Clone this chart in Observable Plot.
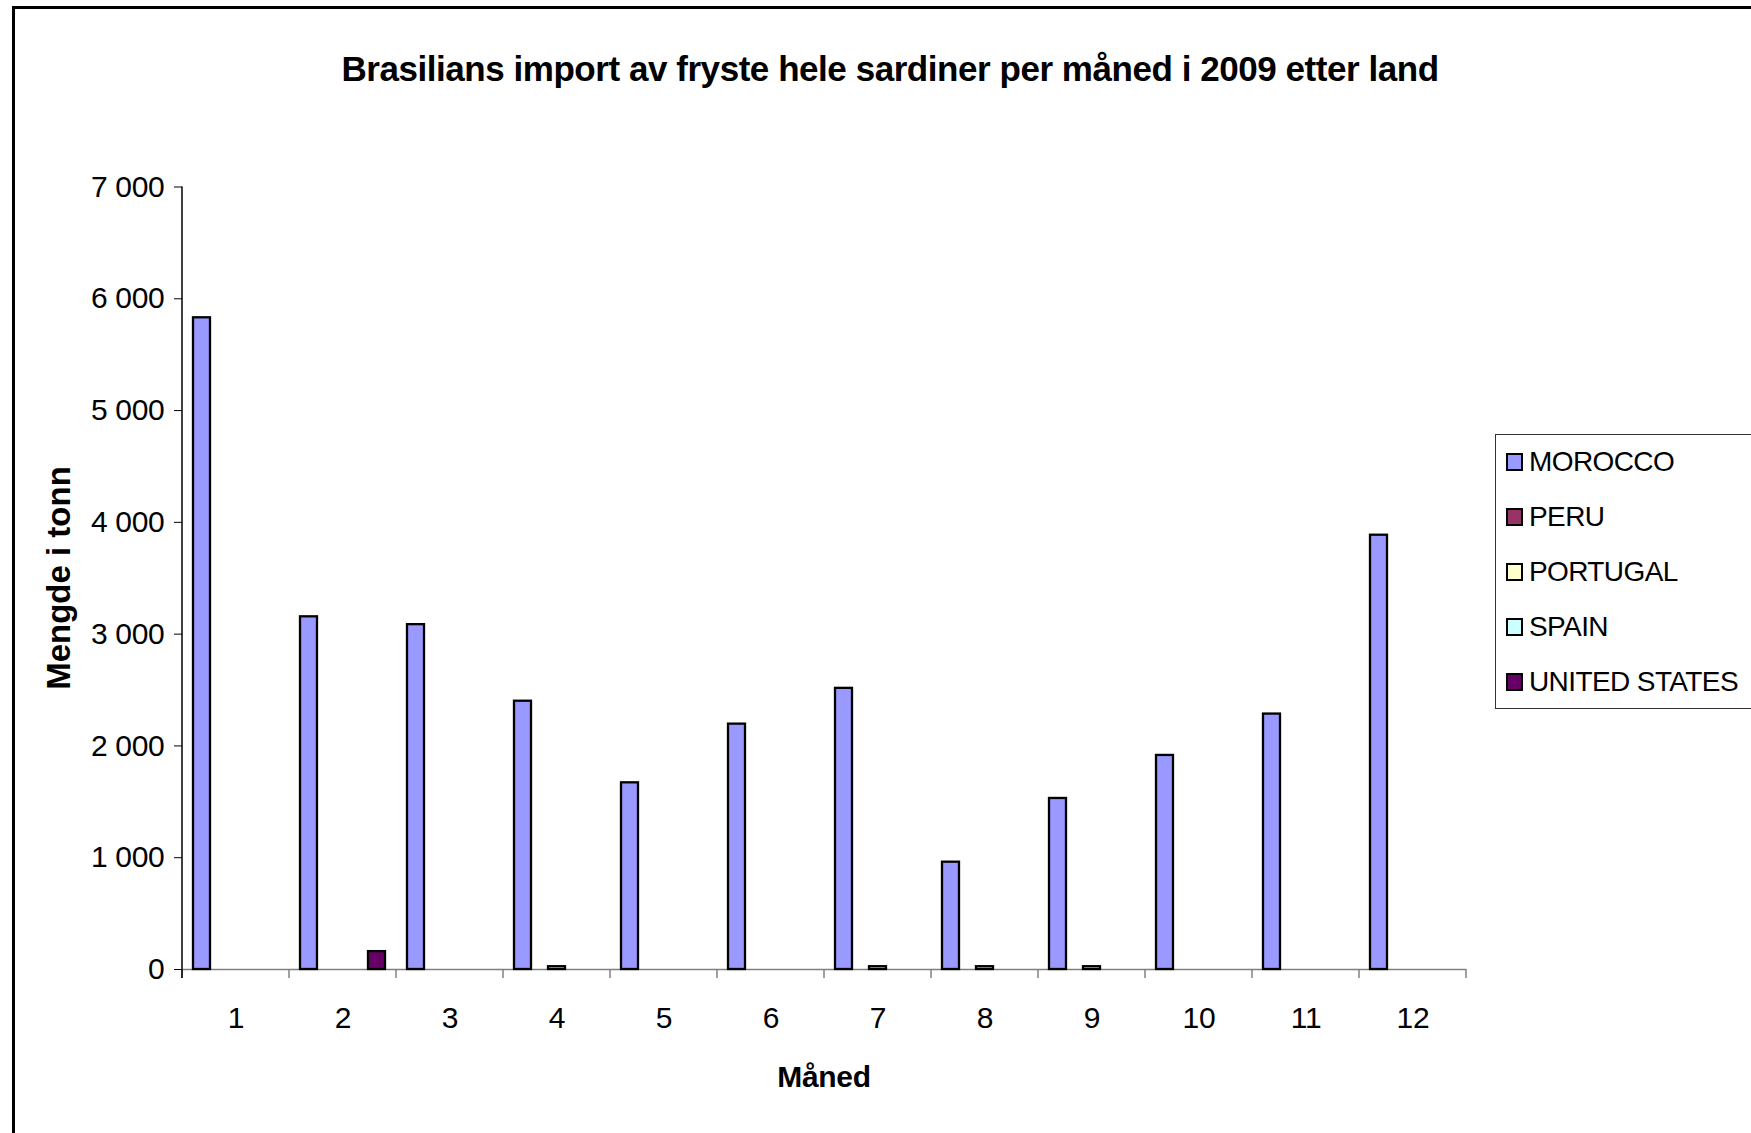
<!DOCTYPE html>
<html>
<head>
<meta charset="utf-8">
<script src="https://cdn.jsdelivr.net/npm/d3@7"></script>
<script src="https://cdn.jsdelivr.net/npm/@observablehq/plot@0.6"></script>
<style>
  html, body { margin: 0; padding: 0; background: #fff; }
  #wrap { position: relative; width: 1751px; height: 1133px; overflow: hidden; background: #fff;
          font-family: "Liberation Sans", Arial, sans-serif; color: #000; }
  #border { position: absolute; left: 12px; top: 6px; width: 1800px; height: 1200px; border: 3px solid #000; box-sizing: border-box; }
  #chart { position: absolute; left: 0; top: 0; }
  .title { position: absolute; left: 890px; top: 51px; transform: translateX(-50%); white-space: nowrap;
           font-size: 35px; line-height: 35px; font-weight: bold; letter-spacing: -0.45px; }
  .xtitle { position: absolute; left: 824px; top: 1077px; transform: translate(-50%, -50%); white-space: nowrap;
            font-size: 30px; font-weight: bold; letter-spacing: -0.3px; }
  .ytitle { position: absolute; left: 59px; top: 578px; transform: translate(-50%, -50%) rotate(-90deg); white-space: nowrap;
            font-size: 33px; font-weight: bold; letter-spacing: 0px; }
  #legend { position: absolute; left: 1495px; top: 434px; width: 300px; height: 275px; border: 1.5px solid #333; box-sizing: border-box; background: #fff; }
  .item { position: absolute; left: 10px; height: 30px; display: flex; align-items: center; white-space: nowrap;
          font-size: 28px; letter-spacing: -0.6px; }
  .sw { width: 13px; height: 14px; border: 2px solid #000; margin-right: 6px; flex: none; }
</style>
</head>
<body>
<div id="wrap">
  <div id="border"></div>
  <div id="chart"></div>
  <div class="title">Brasilians import av fryste hele sardiner per måned i 2009 etter land</div>
  <div class="xtitle">Måned</div>
  <div class="ytitle">Mengde i tonn</div>
  <div id="legend"></div>
</div>
<script>
// ---- data ----
const months = [1, 2, 3, 4, 5, 6, 7, 8, 9, 10, 11, 12];
const countries = ["MOROCCO", "PERU", "PORTUGAL", "SPAIN", "UNITED STATES"];
const colors = ["#9999FF", "#993366", "#FFFFCC", "#CCFFFF", "#660066"];
const morocco      = [5830, 3155, 3085, 2400, 1670, 2195, 2515, 960, 1530, 1915, 2285, 3885];
const peru         = [0, 0, 0, 0, 0, 0, 0, 0, 0, 0, 0, 0];
const portugal     = [0, 0, 0, 25, 0, 0, 25, 25, 25, 0, 0, 0];
const spain        = [0, 0, 0, 0, 0, 0, 0, 0, 0, 0, 0, 0];
const unitedStates = [0, 160, 0, 0, 0, 0, 0, 0, 0, 0, 0, 0];
const yTicks = [0, 1000, 2000, 3000, 4000, 5000, 6000, 7000];

const series = [morocco, peru, portugal, spain, unitedStates];
const data = countries.flatMap((c, i) => months.map((m, j) => ({month: m, country: c, value: series[i][j]})));

const locale = d3.formatLocale({decimal: ",", thousands: "\u00a0", grouping: [3], currency: ["", ""]});
const fmt = locale.format(",d");

const chart = Plot.plot({
  width: 1751,
  height: 1133,
  marginLeft: 179,
  marginRight: 282,
  marginTop: 186.5,
  marginBottom: 164,
  style: {fontFamily: "'Liberation Sans', Arial, sans-serif", fontSize: "30px", color: "#000", background: "transparent", letterSpacing: "-0.3px", overflow: "visible"},
  fx: {domain: months, padding: 0},
  x: {domain: countries, paddingInner: 0, paddingOuter: 0.58, axis: null},
  y: {domain: [0, 7000], axis: null},
  color: {domain: countries, range: colors},
  marks: [
    Plot.ruleY([0], {stroke: "#808080", strokeWidth: 1.5}),
    Plot.barY(data, {filter: d => d.value > 0, fx: "month", x: "country", y: "value", fill: "country", stroke: "#000", strokeWidth: 2.3}),
    Plot.axisFx({anchor: "bottom", tickSize: 0, tickPadding: 37, label: null, fontSize: 30}),
    Plot.axisY({ticks: yTicks, tickFormat: fmt, tickSize: 8, tickPadding: 10, label: null, fontSize: 30, stroke: "#000"})
  ]
});

// axis line and group-boundary ticks, derived from the chart's scales
const fx = chart.scale("fx");
const y = chart.scale("y");
const y0 = y.apply(0), yTop = y.apply(7000);
const bounds = months.map(m => fx.apply(m)).concat([fx.apply(months[months.length - 1]) + fx.bandwidth]);
const g = d3.select(chart).append("g");
g.selectAll("line.b").data(bounds).join("line")
  .attr("x1", d => d).attr("x2", d => d).attr("y1", y0).attr("y2", y0 + 9)
  .attr("stroke", "#808080").attr("stroke-width", 1.5);
g.append("line").attr("x1", bounds[0]).attr("x2", bounds[0]).attr("y1", yTop).attr("y2", y0 + 9)
  .attr("stroke", "#000").attr("stroke-width", 1.5);

document.getElementById("chart").appendChild(chart);

// legend
const legend = d3.select("#legend");
countries.forEach((c, i) => {
  const item = legend.append("div").attr("class", "item").style("top", (12 + i * 55) + "px");
  item.append("div").attr("class", "sw").style("background", colors[i]);
  item.append("span").text(c);
});
</script>
</body>
</html>
